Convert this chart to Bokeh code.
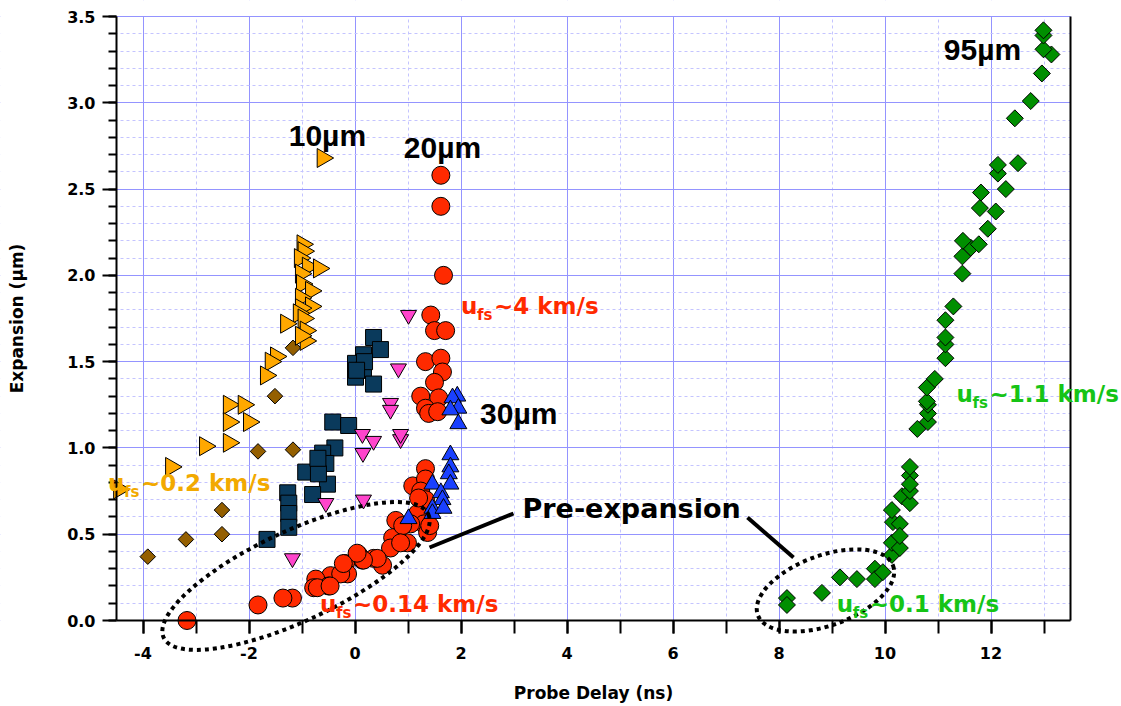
import numpy as np
from bokeh.plotting import figure
from bokeh.models import FixedTicker, PrintfTickFormatter, Label, LinearAxis, Range1d, BoxAnnotation
from bokeh.embed import file_html
from bokeh.resources import INLINE

# ---------------- data ----------------
# 10 um target (orange right-pointing triangles)
tri10_x = [-0.61, -0.99, -0.97, -1.04, -0.89, -0.68, -1.02, -1.00, -0.83, -1.02, -0.83, -1.02, -1.06,
           -1.30, -0.97, -0.93, -0.93, -1.02, -1.49, -1.59, -1.68, -2.38, -2.10, -2.38, -2.00, -2.83,
           -2.38, -3.47, -4.45]
tri10_y = [2.68, 2.18, 2.14, 2.10, 2.05, 2.04, 2.01, 1.95, 1.91, 1.87, 1.82, 1.81, 1.78,
           1.72, 1.75, 1.68, 1.62, 1.65, 1.53, 1.50, 1.42, 1.25, 1.25, 1.15, 1.15, 1.01,
           1.03, 0.89, 0.76]
# brown diamonds
brown_x = [-1.17, -1.51, -1.83, -1.17, -2.51, -2.51, -3.19, -3.91]
brown_y = [1.58, 1.30, 0.98, 0.99, 0.64, 0.50, 0.47, 0.37]
# dark blue squares
sq_x = [0.35, 0.48, 0.16, 0.01, 0.16, 0.01, 0.35, 0.18, 0.03, -0.42, -0.12, -0.38, -0.61, -0.55,
        -0.93, -0.52, -0.80, -0.69, -0.70, -1.27, -1.25, -1.25, -1.25, -1.66]
sq_y = [1.64, 1.57, 1.54, 1.49, 1.45, 1.41, 1.37, 1.50, 1.45, 1.15, 1.13, 1.00, 0.97, 0.91,
        0.86, 0.79, 0.73, 0.85, 0.94, 0.74, 0.68, 0.62, 0.54, 0.47]
# magenta inverted triangles
mag_x = [1.01, 0.82, 0.67, 0.67, 0.14, 0.35, 0.86, 0.86, 0.15, -0.55, 0.16, -1.18]
mag_y = [1.77, 1.46, 1.26, 1.22, 1.08, 1.04, 1.05, 1.08, 0.97, 0.68, 0.70, 0.36]
# 20 um target (red circles)
red_x = [1.62, 1.62, 1.67, 1.43, 1.50, 1.71, 1.33, 1.62, 1.65, 1.50, 1.24, 1.58, 1.33, 1.39, 1.56,
         1.33, 1.09, 1.33, 1.24, 1.33, 0.77, 1.18, 1.30, 1.05, 0.71, 0.99, 0.67, 0.52, 0.35,
         0.14, 0.07, -0.18, -0.14, -0.46, -0.74, -0.50, -0.78, -1.18, -1.36, -1.83, -3.17,
         1.20, 1.37, 1.41, 0.90, 0.86, 0.42, 0.16, 0.04, -0.27, -0.71, -0.47, -0.22]
red_y = [2.58, 2.40, 2.00, 1.77, 1.68, 1.68, 1.50, 1.52, 1.44, 1.38, 1.30, 1.29, 1.23, 1.20, 1.21,
         0.88, 0.78, 0.82, 0.75, 0.70, 0.58, 0.62, 0.56, 0.56, 0.48, 0.45, 0.42, 0.32, 0.36,
         0.35, 0.38, 0.33, 0.27, 0.26, 0.24, 0.20, 0.19, 0.13, 0.13, 0.09, 0.00,
         0.71, 0.51, 0.55, 0.55, 0.45, 0.36, 0.35, 0.39, 0.27, 0.19, 0.20, 0.33]
# 30 um target (blue triangles)
blue_x = [1.93, 1.84, 1.95, 1.80, 1.95, 1.80, 1.80, 1.77, 1.80, 1.46, 1.62, 1.65, 1.46, 1.46, 1.01, 1.67]
blue_y = [1.30, 1.29, 1.23, 1.22, 1.14, 0.96, 0.89, 0.85, 0.79, 0.79, 0.74, 0.70, 0.65, 0.62, 0.59, 0.65]
# 95 um target (green diamonds)
green_x = [8.15, 8.15, 8.81, 9.15, 9.47, 9.81, 9.81, 9.96, 10.13, 10.13, 10.28, 10.15, 10.28, 10.13,
           10.28, 10.32, 10.47, 10.47, 10.47, 10.47, 10.47, 10.61, 10.81, 10.81, 10.81, 10.79, 10.79,
           10.94, 11.14, 11.14, 11.14, 11.14, 11.29, 11.46, 11.46, 11.62, 11.77, 11.47, 11.94, 12.09,
           11.79, 11.81, 12.28, 12.13, 12.13, 12.51, 12.45, 12.75, 12.96, 13.14, 12.99, 12.99, 12.99]
green_y = [0.13, 0.09, 0.16, 0.25, 0.24, 0.30, 0.24, 0.28, 0.38, 0.45, 0.42, 0.57, 0.56, 0.64,
           0.49, 0.72, 0.68, 0.75, 0.84, 0.89, 0.79, 1.11, 1.15, 1.20, 1.25, 1.27, 1.35,
           1.40, 1.52, 1.60, 1.64, 1.74, 1.82, 2.01, 2.11, 2.16, 2.18, 2.20, 2.27, 2.37,
           2.39, 2.48, 2.50, 2.59, 2.64, 2.65, 2.91, 3.01, 3.17, 3.28, 3.31, 3.39, 3.42]

x_limits = (-4.5, 13.5)
y_limits = (0.0, 3.5)
x_major_ticks = [-4, -2, 0, 2, 4, 6, 8, 10, 12]
x_minor_ticks = list(range(-4, 14))
y_major_ticks = [0.0, 0.5, 1.0, 1.5, 2.0, 2.5, 3.0, 3.5]
y_minor_ticks = [round(i * 0.1, 1) for i in range(36)]

# ---------------- figure ----------------
# The frame fills the whole canvas so that annotations that run past the
# axes (as in the original) are not clipped; axes are placed at fixed
# data locations and areas outside the data box are masked white.
W, H = 1121, 706
PX_L, PX_R, PX_T, PX_B = 116, 1070, 16, 620          # data box in pixels
sx = (PX_R - PX_L) / (x_limits[1] - x_limits[0])
sy = (PX_B - PX_T) / (y_limits[1] - y_limits[0])
xr = Range1d(x_limits[0] - PX_L / sx, x_limits[0] + (W - PX_L) / sx)
yr = Range1d(y_limits[0] - (H - PX_B) / sy, y_limits[0] + PX_B / sy)

FONT = "DejaVu Sans"
p = figure(width=W, height=H, x_range=xr, y_range=yr,
           output_backend="svg", toolbar_location=None)
p.min_border = 0
p.outline_line_color = None
p.background_fill_color = "white"
p.border_fill_color = "white"

xt = FixedTicker(ticks=x_major_ticks, minor_ticks=x_minor_ticks)
yt = FixedTicker(ticks=y_major_ticks, minor_ticks=y_minor_ticks)

for g, t in ((p.xgrid[0], xt), (p.ygrid[0], yt)):
    g.ticker = t
    g.grid_line_color = "#9494ff"
    g.grid_line_width = 1
    g.minor_grid_line_color = "#c4c4ff"
    g.minor_grid_line_width = 1
    g.minor_grid_line_dash = "3 3"

# white masks outside the data box (under the glyphs, over the grid)
for kw in (dict(left=-50, right=50, bottom=y_limits[1] + 0.003, top=50),
           dict(left=-50, right=50, bottom=-50, top=y_limits[0]),
           dict(left=-50, right=x_limits[0], bottom=-50, top=50),
           dict(left=x_limits[1], right=50, bottom=-50, top=50)):
    p.add_layout(BoxAnnotation(fill_color="white", fill_alpha=1.0, line_color=None,
                               level="underlay", **kw))

xa = p.xaxis[0]
xa.ticker = xt
xa.formatter = PrintfTickFormatter(format="%d")
xa.axis_label = "Probe Delay (ns)"
xa.fixed_location = y_limits[0]
xa.bounds = x_limits
ya = p.yaxis[0]
ya.ticker = yt
ya.formatter = PrintfTickFormatter(format="%.1f")
ya.axis_label = "Expansion (µm)"
ya.fixed_location = x_limits[0]
ya.bounds = y_limits

for ax in (xa, ya):
    ax.axis_line_width = 2
    ax.axis_line_color = "black"
    ax.major_tick_line_width = 2
    ax.minor_tick_line_width = 2
    ax.major_tick_line_color = "black"
    ax.minor_tick_line_color = "black"
    ax.major_tick_in = 0
    ax.minor_tick_in = 0
    ax.major_label_text_font = FONT
    ax.major_label_text_font_style = "bold"
    ax.major_label_text_font_size = "16px"
    ax.major_label_text_color = "black"
    ax.axis_label_text_font = FONT
    ax.axis_label_text_font_style = "bold"
    ax.axis_label_text_font_size = "17px"
    ax.axis_label_text_color = "black"

xa.major_tick_out = 13
xa.minor_tick_out = 13
xa.major_label_standoff = 13
xa.axis_label_standoff = 21
ya.major_tick_out = 14
ya.minor_tick_out = 8
ya.major_label_standoff = 7
ya.axis_label_standoff = 37

ra = LinearAxis(ticker=FixedTicker(ticks=[]), axis_line_width=2, axis_line_color="black",
                major_label_text_font_size="0px", major_tick_line_color=None,
                minor_tick_line_color=None, fixed_location=x_limits[1], bounds=y_limits)
p.add_layout(ra, "right")

# ---------------- markers ----------------
EDGE = dict(line_color="black", line_width=1)
p.scatter(brown_x, brown_y, marker="square", angle=np.pi / 4, size=11, fill_color="#945f00", **EDGE)
p.scatter(tri10_x, tri10_y, marker="triangle", angle=-np.pi / 2, size=19, fill_color="#ffa800", **EDGE)
p.scatter(sq_x, sq_y, marker="square", size=16, fill_color="#0a3a5c", **EDGE)
p.scatter(mag_x, mag_y, marker="inverted_triangle", size=16, fill_color="#ff44cc", **EDGE)
p.scatter(red_x, red_y, marker="circle", size=18, fill_color="#ff2a00", **EDGE)
p.scatter(blue_x, blue_y, marker="triangle", size=17, fill_color="#1a40ff", **EDGE)
p.scatter(green_x, green_y, marker="square", angle=np.pi / 4, size=12, fill_color="#008f00", **EDGE)

# ---------------- annotations ----------------
ell_x = [-1.113, 8.877]
ell_y = [0.258, 0.174]
ell_w = [292, 144]
ell_h = [90, 70]
ell_a = [np.deg2rad(25), np.deg2rad(20)]
p.ellipse(x=ell_x, y=ell_y, width=ell_w, height=ell_h, angle=ell_a,
          width_units="screen", height_units="screen", fill_color=None,
          line_color="black", line_width=4, line_dash="4 4")

ptr_x0 = [1.406, 7.406]
ptr_y0 = [0.423, 0.597]
ptr_x1 = [2.99, 8.274]
ptr_y1 = [0.620, 0.365]
p.segment(ptr_x0, ptr_y0, ptr_x1, ptr_y1, line_color="black", line_width=4)

def txt(x, y, s, size, color="black", font=FONT, xo=0, yo=0):
    p.add_layout(Label(x=x, y=y, text=s, x_offset=xo, y_offset=yo, text_font=font,
                       text_font_style="bold", text_font_size=size, text_color=color,
                       text_baseline="middle", text_align="left"))

LIB = "Liberation Sans"
txt(-1.25, 2.813, "10µm", "30px", font=LIB)
txt(0.92, 2.741, "20µm", "30px", font=LIB)
txt(2.36, 1.20, "30µm", "30px", font=LIB)
txt(11.11, 3.309, "95µm", "30px", font=LIB)
txt(3.16, 0.649, "Pre-expansion", "27px")

def ufs(x, y, rest, color):
    txt(x, y, "u", "23px", color)
    txt(x, y, "fs", "15px", color, xo=16, yo=-9)
    txt(x, y, rest, "23px", color, xo=33)

ufs(2.00, 1.825, "~4 km/s", "#ff2a00")
ufs(-4.66, 0.794, "~0.2 km/s", "#f2a900")
ufs(-0.66, 0.0985, "~0.14 km/s", "#ff2a00")
ufs(11.35, 1.315, "~1.1 km/s", "#16c416")
ufs(9.09, 0.0985, "~0.1 km/s", "#16c416")

open("out.html", "w").write(file_html(p, INLINE))
